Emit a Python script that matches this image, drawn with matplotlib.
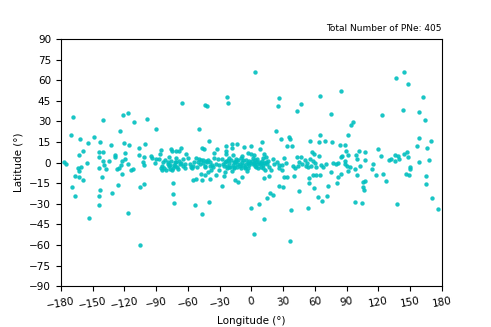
import matplotlib
matplotlib.use('Agg')
import matplotlib.pyplot as plt

# high latitude objects (|b| > ~27)
lon_high = [-65.6, -168.4, -140.6, -121.7, -116.7, -111.3, -98.8, 3.0, -22.9, -22.2,
            -44.2, -41.8, 26.0, 25.0, 46.8, 43.0, 144.4, 136.3, 147.9, 84.9,
            64.5, 161.8, 75.4, 123.3, 143.2, 158.3, 164.3, 96.2, 93.8]
lat_high = [43.6, 33.2, 31.2, 34.9, 36.3, 29.5, 31.9, 66.2, 47.5, 43.4,
            42.1, 41.4, 46.8, 41.0, 42.4, 37.8, 65.7, 61.8, 57.0, 52.3,
            48.2, 48.0, 35.6, 34.4, 38.5, 37.0, 31.0, 29.7, 27.3]

# band, far west (-180 .. -87)
lon_west = [-170.6, -162.1, -148.6, -124.0, -90.0, -154.8, -142.9, -132.8, -120.5, -115.5,
            -106.3, -100.4, -159.3, -163.0, -144.4, -140.6, -128.4, -129.0, -119.6, -106.0,
            -144.1, -140.4, -135.0, -138.8, -122.4, -119.3, -101.0, -95.3, -93.8, -90.5,
            -102.3, -87.1, -177.2, -174.7, -155.5, -143.9, -137.2, -123.1, -116.7, -126.8,
            -124.9, -114.2, -112.0, -101.0, -91.2, -164.3, -161.4, -162.7, -166.2, -163.0,
            -159.3, -141.0, -122.7, -126.2, -169.7, -143.5, -167.1, -144.4, -131.9, -105.1,
            -101.9, -144.1]
lat_west = [19.8, 17.4, 18.4, 23.2, 24.6, 14.2, 15.0, 12.8, 14.0, 12.5,
            10.6, 13.5, 8.6, 5.7, 7.7, 7.7, 5.7, 4.2, 6.7, 5.7,
            3.8, 1.1, 1.1, -1.6, 0.9, 2.3, 3.8, 4.5, 3.5, 2.6,
            0.6, 2.3, 0.1, -1.1, -0.6, -4.0, -4.5, -2.0, -1.1, -4.5,
            -3.8, -5.5, -5.0, -1.6, -0.4, -4.0, -3.5, -6.4, -9.6, -10.8,
            -13.0, -10.8, -8.6, -16.4, -17.9, -19.8, -24.6, -24.2, -22.2, -18.1,
            -15.9, -30.8]

# band, central west (-87 .. -1)
lon_cw = [-49.9, -40.5, -85.8, -86.2, -76.1, -75.4, -71.4, -68.8, -66.3, -61.6,
          -47.1, -44.6, -32.9, -35.2, -24.4, -18.4, -13.7, -18.1, -7.1, -0.2,
          -24.1, -23.8, -17.8, -8.7, -3.3,
          -81.7, -84.6, -82.4, -80.8, -84.3, -85.5, -76.1, -71.7, -68.2, -67.3,
          -70.1, -74.2, -74.8, -77.7, -60.0, -58.4, -57.5, -54.3, -52.1, -49.9,
          -47.7, -45.5, -43.0, -41.4, -48.4, -51.2, -43.9, -39.5, -37.0, -33.2,
          -30.7, -35.8, -31.4, -27.9, -24.4, -22.5, -21.6, -23.5, -16.9, -15.3,
          -13.4, -10.9, -8.4, -5.5, -3.6, -3.6, -6.5, -9.9, -13.4, -16.2,
          -20.3, -31.0, -38.3, -40.8, -43.9, -48.0, -52.5, -54.7, -46.2, -39.5,
          -33.9, -26.3, -25.4, -18.1, -15.9, -12.4, -8.7, -4.3, -55.0, -56.2,
          -62.9, -64.7, -66.3, -77.0, -69.1, -72.3, -83.3, -79.2,
          -74.2, -74.5, -73.2, -39.9, -27.6]
lat_cw = [24.6, 15.9, 9.3, 6.4, 9.8, 8.1, 8.4, 8.1, 10.8, 6.4,
          10.3, 9.6, 10.1, 6.9, 12.3, 13.2, 13.2, 10.8, 11.1, 12.0,
          8.1, 6.2, 5.5, 4.5, 6.7,
          2.1, -2.8, -3.8, -5.5, -5.5, -3.8, 1.3, 0.6, 1.1, -1.1,
          -3.0, -3.8, -5.5, -2.6, 3.0, -1.4, -3.0, 0.1, 3.0, 2.3,
          1.8, 2.1, 1.3, 2.1, -1.3, -3.3, -3.0, -2.3, -1.8, -1.3,
          -1.8, 3.0, 2.3, 2.8, 1.1, 1.8, -3.5, -4.3, 0.6, 0.1,
          -1.1, -1.1, -1.8, -1.3, -0.6, -4.3, -4.3, -3.8, -3.3, -4.3,
          -3.0, -5.5, -5.5, -7.2, -9.1, -8.4, -12.0, -12.8, -12.8, -12.0,
          -9.1, -9.6, -6.9, -6.4, -12.8, -14.5, -10.3, -6.2, -2.8, -4.0,
          -4.0, -2.6, -0.6, -5.0, -5.0, 0.1, 0.1, 0.4,
          -15.0, -23.2, -29.5, -29.0, -16.9]

# band, central east (-1 .. 88)
lon_ce = [22.8, 9.6, 27.6, 35.4, 36.1, 7.7, 33.9, 38.3, 55.0, 65.0,
          63.8, 69.5, 76.1, 83.3, -0.8, 2.4, 1.1, 3.3, 5.5, 11.8,
          13.7, 11.2, 20.6, 30.4, 42.7, 46.5, 57.5, 58.7, 64.1, 50.6,
          55.6, 85.8, 84.6, 88.0, -1.4, 1.1, 3.3, 8.0, 11.2, 14.3,
          6.5, 10.5, 12.8, 16.5, 18.4, 26.3, 29.1, 25.7, 28.5, 38.9,
          41.4, 43.9, 48.0, 51.2, 53.7, 56.2, 60.0, 61.3, 65.4, 67.6,
          70.7, 76.7, 79.5, 81.4, 74.8, 84.3, 81.7, 11.8, 16.9, 31.0,
          33.5, 40.5, 54.0, 54.6, 57.8, 61.0, 64.7, 59.1, 72.0, 80.8,
          26.0, 29.8, 17.8, 20.3, 45.2, 14.3, 7.1, 62.5, 66.6, 71.7]
lat_ce = [23.0, 14.7, 16.9, 18.8, 17.4, 9.8, 11.8, 11.8, 15.9, 20.0,
          14.7, 15.7, 14.7, 12.8, 5.9, 5.5, 3.0, 1.8, 2.5, 6.2,
          4.2, 3.0, 2.5, 3.5, 3.8, 3.8, 7.9, 5.9, 4.9, 2.1,
          2.3, 4.9, 4.0, -1.3, -0.6, -1.3, -2.3, -1.3, -2.1, -1.3,
          -4.3, -4.3, -5.2, -3.5, -5.5, -1.8, -1.8, -4.3, -5.7, -2.8,
          -3.8, -2.8, -1.1, -2.8, -3.3, -2.8, -0.6, -3.5, -1.8, -3.3,
          -1.3, -0.6, -1.3, 0.0, -7.2, -8.6, -10.3, -11.1, -10.1, -10.8,
          -10.8, -9.9, -11.6, -15.0, -9.4, -9.1, -9.1, -18.4, -17.1, -14.7,
          -17.4, -17.9, -22.2, -24.0, -20.8, -25.6, -30.0, -24.9, -28.1, -24.7]

# band, far east (88 .. 180)
lon_east = [90.9, 158.6, 170.0, 156.1, 165.9, 88.4, 89.3, 90.9, 101.6, 107.6,
            119.6, 98.8, 100.1, 107.6, 122.7, 130.0, 131.6, 135.7, 138.8, 139.1,
            135.3, 144.5, 146.7, 147.6, 158.3, 168.1, 88.4, 90.0, 93.1, 90.9,
            98.2, 102.9, 114.5, 113.9, 117.7, 124.0, 127.5, 149.5, 149.8, 146.0,
            149.2, 164.6, 165.3, 105.1, 107.3, 105.7, 106.0, 99.4, 170.9, 97.9,
            104.2, 137.2]
lat_east = [20.0, 17.6, 15.7, 12.3, 10.3, 12.7, 8.6, 5.7, 8.6, 7.6,
            9.8, 5.5, 2.5, 2.1, 4.5, 1.6, 2.5, 5.5, 4.5, 2.8,
            1.1, 6.4, 7.4, 4.0, 0.3, 1.6, 1.1, -2.6, -3.3, -6.2,
            -5.0, -2.3, -1.3, -4.7, -8.9, -8.2, -13.7, -3.3, -4.7, -8.2,
            -9.4, -9.9, -15.4, -14.2, -13.5, -17.9, -20.3, -9.1, -25.6, -28.6,
            -29.8, -30.0]

# crowded clumps near the plane (overlapping dots)
lon_clump = [-26.5, -25.0, -22.8, -20.9, -19.5, -17.6, -16.0, -14.2, -12.6, -11.0,
             -9.3, -7.8, -6.2, -4.9, -2.7, -1.9, -26.0, -21.0, -14.8, -10.2,
             0.4, 2.0, 3.9, 5.2, 6.8, 8.9, 10.1, 12.0, 13.5, 4.5,
             9.0, 15.5, -79.0, -76.5, -73.0, -70.8, -65.0, -63.2, -78.2, -72.0,
             -50.5, -46.0, -44.3, -42.2, -38.9, -36.2, 21.5, 24.0, 33.0, 45.0,
             52.5, 58.5]
lat_clump = [-0.9, 0.6, -2.2, -0.3, 1.6, -1.9, -3.1, 0.9, 1.7, -2.6,
             0.3, 1.9, -2.9, 2.1, -1.9, 0.8, -2.7, 3.5, 2.6, 3.2,
             0.8, -0.1, 0.2, -0.8, 0.7, -0.4, 1.4, -0.6, 0.4, -3.4,
             -2.9, 1.0, -0.9, -1.6, -1.8, 3.2, 2.2, -1.4, 4.1, -2.2,
             0.6, -0.7, -2.2, 0.2, 0.5, -3.4, -0.9, 0.7, -0.4, 0.4,
             -0.4, 1.2]

# low latitude objects (b < ~ -31)
lon_low = [-153.6, -116.4, -104.8, -53.7, -46.5, -0.8, 11.5, 2.7, 36.1, 37.3, 53.7, 176.3]
lat_low = [-40.7, -37.1, -59.7, -31.0, -37.3, -33.4, -41.4, -52.4, -57.0, -34.6, -33.4, -33.9]

lon = lon_high + lon_west + lon_cw + lon_ce + lon_east + lon_clump + lon_low
lat = lat_high + lat_west + lat_cw + lat_ce + lat_east + lat_clump + lat_low

fig = plt.figure(figsize=(4.91, 3.27), dpi=100)
ax = fig.add_axes([0.124, 0.125, 0.776, 0.756])
ax.scatter(lon, lat, s=10, color='c', alpha=0.9, linewidths=0)

ax.set_xlim(-180, 180)
ax.set_ylim(-90, 90)
ax.set_xticks(range(-180, 181, 30))
ax.set_yticks(range(-90, 91, 15))
ax.tick_params(labelsize=7.5)
plt.setp(ax.get_xticklabels(), rotation=10)
ax.set_xlabel('Longitude (°)', fontsize=7.5)
ax.set_ylabel('Latitude (°)', fontsize=7.5)
ax.set_title('Total Number of PNe: %d' % len(lon), loc='right', fontsize=6.5)

fig.savefig('out.png', dpi=100)
